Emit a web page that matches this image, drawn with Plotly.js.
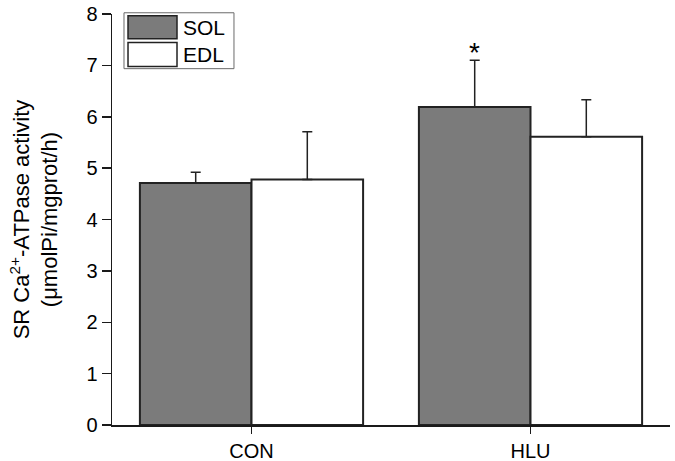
<!DOCTYPE html>
<html>
<head>
<meta charset="utf-8">
<script src="https://cdn.plot.ly/plotly-3.0.1.min.js"></script>
<style>html,body{margin:0;padding:0;background:#fff;}#chart{width:675px;height:461px;}</style>
</head>
<body>
<div id="chart"></div>
<script>
const groups = ["CON", "HLU"];
const seriesNames = ["SOL", "EDL"];
const solValues = [4.71, 6.19];
const solErrors = [0.21, 0.91];
const edlValues = [4.78, 5.61];
const edlErrors = [0.93, 0.72];
const yTickVals = [0, 1, 2, 3, 4, 5, 6, 7, 8];
const sigMark = "*";

const fillColors = ["#7b7b7b", "#ffffff"];
const outline = "#222222";
const font = "Liberation Sans, Arial, sans-serif";

function barTrace(name, y, err, color) {
  return {
    type: "bar", name: name, x: groups, y: y,
    marker: {color: color, line: {color: outline, width: 2}},
    error_y: {type: "data", symmetric: false, array: err, arrayminus: [0, 0],
      color: outline, thickness: 1.5, width: 5},
    width: 0.4, showlegend: false, hoverinfo: "skip"
  };
}

const traces = [
  barTrace(seriesNames[0], solValues, solErrors, fillColors[0]),
  barTrace(seriesNames[1], edlValues, edlErrors, fillColors[1])
];

// legend drawn as layout decoration (paper coordinates)
const lgX0 = 0.0215, lgX1 = 0.2186, lgY0 = 0.867, lgY1 = 1.003;
const sw = [[0.9957, 0.9396], [0.9308, 0.8723]];
const shapes = [
  {type: "rect", xref: "paper", yref: "paper", x0: lgX0, x1: lgX1, y0: lgY0, y1: lgY1,
   line: {color: "#6a6a6a", width: 1}, fillcolor: "#ffffff", layer: "above"}
];
const annotations = [];
seriesNames.forEach((n, i) => {
  shapes.push({type: "rect", xref: "paper", yref: "paper", x0: 0.0287, x1: 0.1165,
    y0: sw[i][1], y1: sw[i][0], line: {color: outline, width: 1.5},
    fillcolor: fillColors[i], layer: "above"});
  annotations.push({xref: "paper", yref: "paper", x: 0.123, y: (sw[i][0] + sw[i][1]) / 2,
    xanchor: "left", yanchor: "middle", text: n, showarrow: false,
    font: {family: font, size: 21, color: "#000"}});
});
// significance mark above the HLU SOL error bar
annotations.push({xref: "x", yref: "y", x: 0.8, y: solValues[1] + solErrors[1],
  yanchor: "bottom", xanchor: "center", text: sigMark, showarrow: false,
  font: {family: font, size: 28, color: "#000"}, yshift: -10});

const layout = {
  width: 675, height: 461,
  margin: {l: 112, r: 5, t: 14, b: 36.3, pad: 0},
  paper_bgcolor: "#fff", plot_bgcolor: "#fff",
  barmode: "group", bargap: 0.2, bargroupgap: 0,
  font: {family: font, color: "#000"},
  xaxis: {
    type: "category", range: [-0.5, 1.5], showgrid: false, zeroline: false,
    showline: true, linecolor: "#1a1a1a", linewidth: 1.5,
    ticks: "outside", ticklen: 7, tickwidth: 1.5, tickcolor: "#1a1a1a",
    tickfont: {family: font, size: 20, color: "#000"}
  },
  yaxis: {
    range: [0, 8], tickvals: yTickVals, showgrid: false, zeroline: false,
    showline: true, linecolor: "#1a1a1a", linewidth: 1.5,
    ticks: "outside", ticklen: 9, tickwidth: 1.5, tickcolor: "#1a1a1a",
    tickfont: {family: font, size: 20, color: "#000"},
    title: {text: "SR Ca<sup>2+</sup>-ATPase activity<br>(μmolPi/mgprot/h)",
      font: {family: font, size: 22, color: "#000"}, standoff: 22}
  },
  shapes: shapes,
  annotations: annotations,
  showlegend: false
};

Plotly.newPlot("chart", traces, layout, {displayModeBar: false, staticPlot: true});
</script>
</body>
</html>
